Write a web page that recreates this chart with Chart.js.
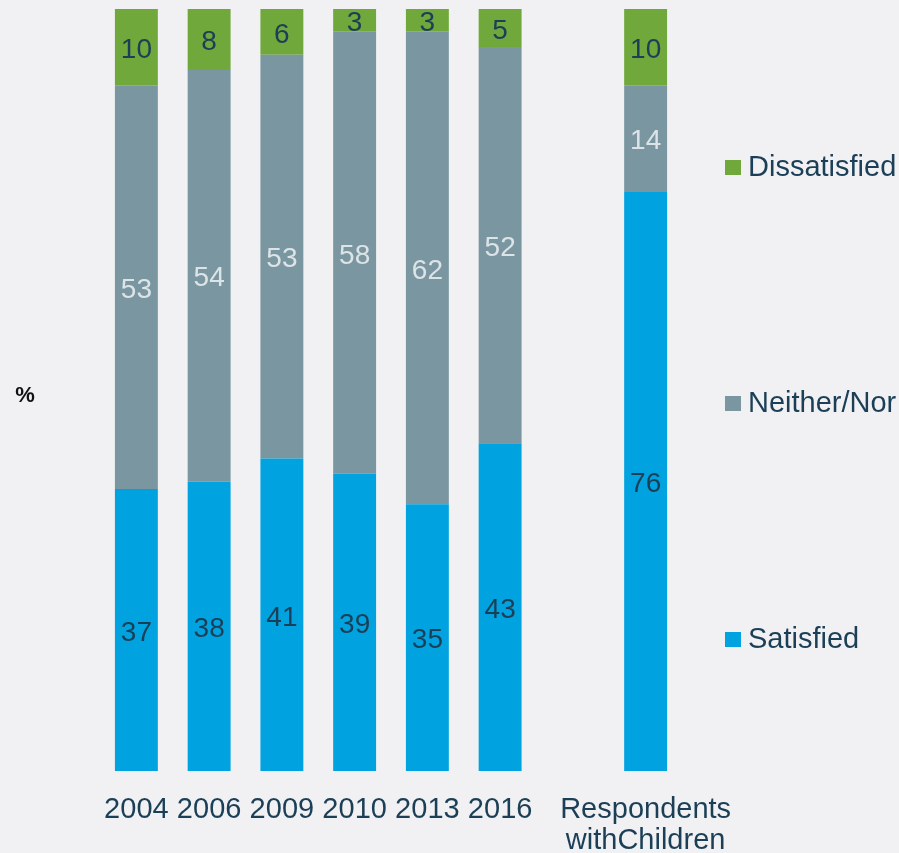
<!DOCTYPE html>
<html>
<head>
<meta charset="utf-8">
<script src="https://cdn.jsdelivr.net/npm/chart.js@4"></script>
<style>
  html, body { margin: 0; padding: 0; background: #f1f1f3; }
  #wrap { position: relative; width: 899px; height: 853px; }
</style>
</head>
<body>
<div id="wrap"><canvas id="chart" width="899" height="853"></canvas></div>
<script>
// Satisfaction survey, share of respondents (%) by year
const categories = ['2004', '2006', '2009', '2010', '2013', '2016', '', ['Respondents', 'withChildren']];
const satisfied    = [37, 38, 41, 39, 35, 43, null, 76];
const neitherNor   = [53, 54, 53, 58, 62, 52, null, 14];
const dissatisfied = [10,  8,  6,  3,  3,  5, null, 10];
const seriesNames  = ['Satisfied', 'Neither/Nor', 'Dissatisfied'];

const TEXT = '#1b3f56';
const FONT = '"Liberation Sans", Arial, sans-serif';
const colors = { sat: '#00a3e0', nn: '#7a97a1', dis: '#70a83b' };

// Value labels centred in each stacked segment
const segmentLabels = {
  id: 'segmentLabels',
  afterDatasetsDraw(chart) {
    const ctx = chart.ctx;
    ctx.save();
    ctx.font = '28px ' + FONT;
    ctx.textAlign = 'center';
    ctx.textBaseline = 'middle';
    chart.data.datasets.forEach((ds, i) => {
      const meta = chart.getDatasetMeta(i);
      meta.data.forEach((el, j) => {
        const v = ds.data[j];
        if (v === null || v === undefined) return;
        ctx.fillStyle = ds.labelColor;
        ctx.fillText(String(v), el.x, (el.y + el.base) / 2 + 3);
      });
    });
    ctx.restore();
  }
};

// Right-hand legend and the unit marker on the left
const sideText = {
  id: 'sideText',
  afterDraw(chart) {
    const ctx = chart.ctx;
    ctx.save();
    const items = [
      { name: seriesNames[2], color: colors.dis, y: 167 },
      { name: seriesNames[1], color: colors.nn,  y: 403 },
      { name: seriesNames[0], color: colors.sat, y: 639 }
    ];
    ctx.font = '29px ' + FONT;
    ctx.textBaseline = 'middle';
    ctx.textAlign = 'left';
    items.forEach(it => {
      ctx.fillStyle = it.color;
      ctx.fillRect(725, it.y - 7, 16, 15);
      ctx.fillStyle = TEXT;
      ctx.fillText(it.name, 748, it.y + 1);
    });
    ctx.font = 'bold 22px ' + FONT;
    ctx.textAlign = 'center';
    ctx.fillStyle = '#111111';
    ctx.fillText('%', 25, 396);
    ctx.restore();
  }
};

new Chart(document.getElementById('chart'), {
  type: 'bar',
  data: {
    labels: categories,
    datasets: [
      { label: seriesNames[0], data: satisfied, backgroundColor: colors.sat, labelColor: TEXT },
      { label: seriesNames[1], data: neitherNor, backgroundColor: colors.nn, labelColor: '#dde4e8' },
      { label: seriesNames[2], data: dissatisfied, backgroundColor: colors.dis, labelColor: TEXT }
    ]
  },
  options: {
    responsive: false,
    animation: false,
    layout: { padding: { left: 100, right: 217, top: 9, bottom: 0 } },
    datasets: {
      bar: {
        barPercentage: 0.59,
        categoryPercentage: 1,
        borderWidth: 0
      }
    },
    plugins: {
      legend: { display: false },
      tooltip: { enabled: false }
    },
    scales: {
      x: {
        stacked: true,
        grid: { display: false },
        border: { display: false },
        ticks: {
          color: TEXT,
          font: { family: FONT, size: 29, lineHeight: 1.07 },
          padding: 15,
          maxRotation: 0,
          autoSkip: false
        },
        afterFit(scale) { scale.height = 82; }
      },
      y: {
        stacked: true,
        display: false,
        min: 0,
        max: 100
      }
    }
  },
  plugins: [segmentLabels, sideText]
});
</script>
</body>
</html>
